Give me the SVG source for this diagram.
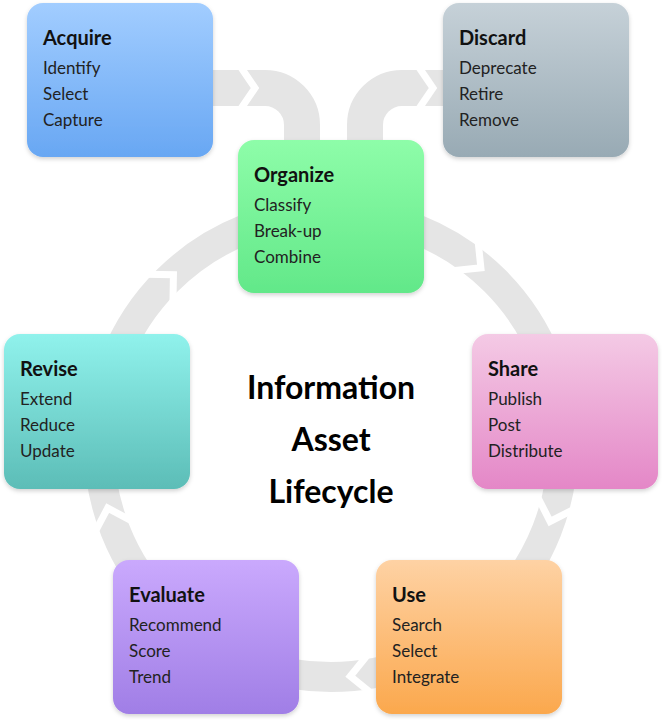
<svg xmlns="http://www.w3.org/2000/svg" width="662" height="720" viewBox="0 0 662 720">
<defs>
<linearGradient id="gA" x1="0" y1="0" x2="0" y2="1"><stop offset="0" stop-color="#a2cdff"/><stop offset="1" stop-color="#68a7f3"/></linearGradient>
<linearGradient id="gD" x1="0" y1="0" x2="0" y2="1"><stop offset="0" stop-color="#c6d1d8"/><stop offset="1" stop-color="#98aab4"/></linearGradient>
<linearGradient id="gO" x1="0" y1="0" x2="0" y2="1"><stop offset="0" stop-color="#8efda9"/><stop offset="1" stop-color="#62e889"/></linearGradient>
<linearGradient id="gR" x1="0" y1="0" x2="0" y2="1"><stop offset="0" stop-color="#90f2ec"/><stop offset="1" stop-color="#5cbdb7"/></linearGradient>
<linearGradient id="gS" x1="0" y1="0" x2="0" y2="1"><stop offset="0" stop-color="#f4cae5"/><stop offset="1" stop-color="#e487c7"/></linearGradient>
<linearGradient id="gE" x1="0" y1="0" x2="0" y2="1"><stop offset="0" stop-color="#caa9fd"/><stop offset="1" stop-color="#a07ee6"/></linearGradient>
<linearGradient id="gU" x1="0" y1="0" x2="0" y2="1"><stop offset="0" stop-color="#fed2a4"/><stop offset="1" stop-color="#fba84d"/></linearGradient>
<filter id="sh" x="-10%" y="-10%" width="120%" height="125%"><feDropShadow dx="0" dy="2" stdDeviation="2" flood-color="#000" flood-opacity="0.18"/></filter>
</defs>
<style>
.box{filter:url(#sh)}
.t{font-family:"Lato","Noto Sans",sans-serif;font-weight:bold;font-size:20px;fill:#111}
.i{font-family:"Lato","Noto Sans",sans-serif;font-size:17px;fill:#222}
.c{font-family:"Lato","Noto Sans",sans-serif;font-weight:bold;font-size:32px;fill:#000;text-anchor:middle}
.band{fill:none;stroke:#e5e5e5}
.notch{fill:none;stroke:#fff;stroke-width:7;stroke-linejoin:miter}
</style>
<g id="connectors">
<circle class="band" cx="331" cy="445" r="232" stroke-width="30"/>
<g transform="rotate(226 331 445)"><polyline class="notch" points="543,430 563,450 583,430"/></g>
<g transform="rotate(-51 331 445)"><polyline class="notch" points="543,430 563,450 583,430"/></g>
<g transform="rotate(18 331 445)"><polyline class="notch" points="543,430 563,450 583,430"/></g>
<g transform="rotate(84 331 445)"><polyline class="notch" points="543,430 563,450 583,430"/></g>
<g transform="rotate(163 331 445)"><polyline class="notch" points="543,430 563,450 583,430"/></g>
<path class="band" stroke-width="36" d="M205,88 H265 A37,37 0 0 1 302,125 V150"/>
<path class="band" stroke-width="36" d="M365,150 V125 A37,37 0 0 1 402,88 H450"/>
<polyline class="notch" points="240,66 255,88 240,110"/>
<polyline class="notch" points="418,66 433,88 418,110"/>
</g>
<g id="acquire"><rect class="box" x="27" y="3" width="186" height="154" rx="16" fill="url(#gA)"/><text class="t" x="43" y="45">Acquire</text><text class="i" x="43" y="74">Identify</text><text class="i" x="43" y="100">Select</text><text class="i" x="43" y="126">Capture</text></g>
<g id="discard"><rect class="box" x="443" y="3" width="186" height="154" rx="16" fill="url(#gD)"/><text class="t" x="459" y="45">Discard</text><text class="i" x="459" y="74">Deprecate</text><text class="i" x="459" y="100">Retire</text><text class="i" x="459" y="126">Remove</text></g>
<g id="organize"><rect class="box" x="238" y="140" width="186" height="153" rx="16" fill="url(#gO)"/><text class="t" x="254" y="182">Organize</text><text class="i" x="254" y="211">Classify</text><text class="i" x="254" y="237">Break-up</text><text class="i" x="254" y="263">Combine</text></g>
<g id="revise"><rect class="box" x="4" y="334" width="186" height="155" rx="16" fill="url(#gR)"/><text class="t" x="20" y="376">Revise</text><text class="i" x="20" y="405">Extend</text><text class="i" x="20" y="431">Reduce</text><text class="i" x="20" y="457">Update</text></g>
<g id="share"><rect class="box" x="472" y="334" width="186" height="155" rx="16" fill="url(#gS)"/><text class="t" x="488" y="376">Share</text><text class="i" x="488" y="405">Publish</text><text class="i" x="488" y="431">Post</text><text class="i" x="488" y="457">Distribute</text></g>
<g id="evaluate"><rect class="box" x="113" y="560" width="186" height="154" rx="16" fill="url(#gE)"/><text class="t" x="129" y="602">Evaluate</text><text class="i" x="129" y="631">Recommend</text><text class="i" x="129" y="657">Score</text><text class="i" x="129" y="683">Trend</text></g>
<g id="use"><rect class="box" x="376" y="560" width="186" height="154" rx="16" fill="url(#gU)"/><text class="t" x="392" y="602">Use</text><text class="i" x="392" y="631">Search</text><text class="i" x="392" y="657">Select</text><text class="i" x="392" y="683">Integrate</text></g>
<g id="title"><text class="c" x="331" y="399">Information</text><text class="c" x="331" y="451">Asset</text><text class="c" x="331" y="503">Lifecycle</text></g>
</svg>
